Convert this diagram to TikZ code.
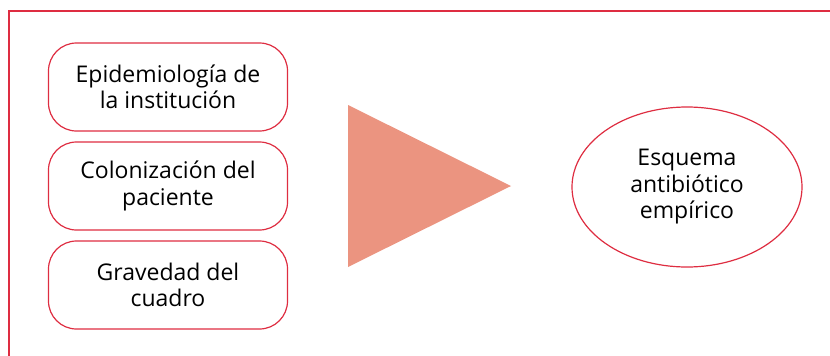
\documentclass[tikz,border=0pt]{standalone}
\usepackage{fontspec}
\setmainfont{Open Sans}
\usetikzlibrary{shapes.geometric}
\definecolor{fr}{RGB}{222,45,65}
\definecolor{salmon}{RGB}{235,148,128}
\tikzset{
  box/.style={draw=fr, line width=1.2pt, rounded corners=28pt, minimum width=239pt, minimum height=88pt, align=center, font=\fontsize{23}{26.5}\selectfont},
  ell/.style={draw=fr, line width=1.2pt, ellipse, minimum width=230pt, minimum height=160pt, inner sep=0pt, align=center, font=\fontsize{23}{26.5}\selectfont},
}
\begin{document}
\begin{tikzpicture}[x=1pt,y=-1pt]
\useasboundingbox (0,0) rectangle (830,356);
\draw[fr, line width=1.2pt] (9,356) -- (9,11) -- (830,11);
\node[box] (a) at (168,87) {Epidemiología de\\la institución};
\node[box] (b) at (168,186) {Colonización del\\paciente};
\node[box] (c) at (168,285) {Gravedad del\\cuadro};
\fill[salmon] (348,105) -- (511,186) -- (348,267) -- cycle;
\node[ell] (e) at (687,187) {Esquema\\antibiótico\\empírico};
\end{tikzpicture}
\end{document}
